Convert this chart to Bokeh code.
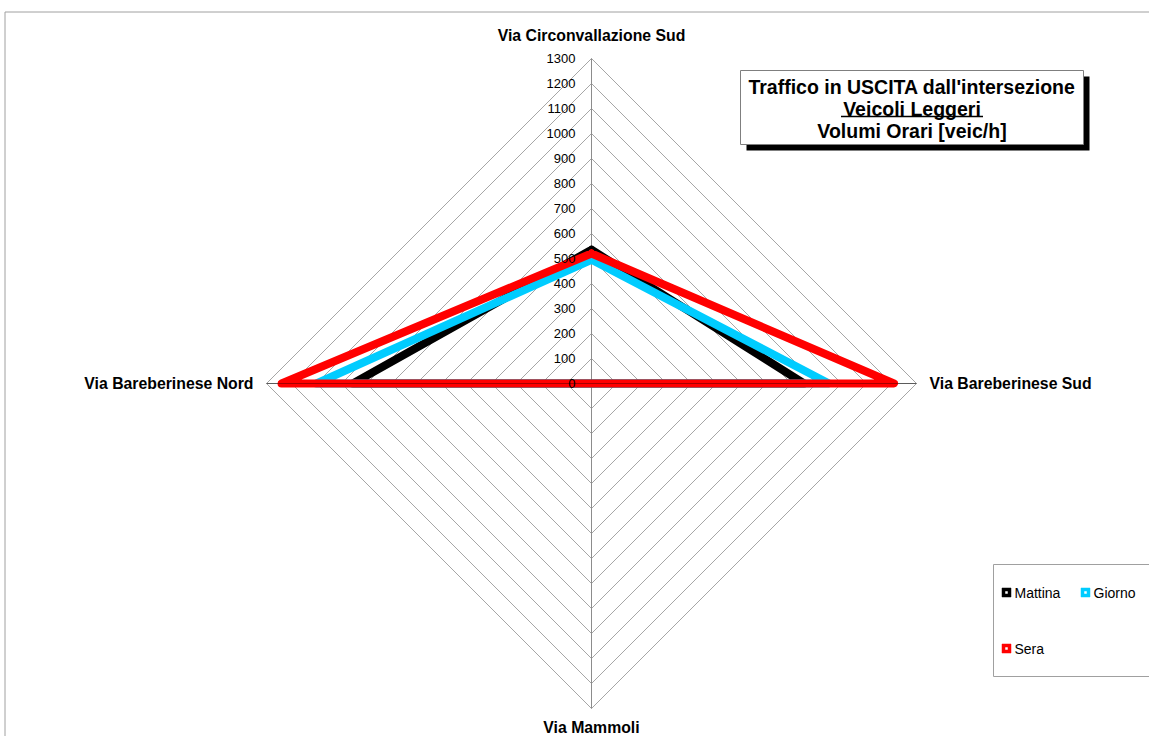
import numpy as np
from bokeh.plotting import figure
from bokeh.models import Range1d
from bokeh.core.properties import value
from bokeh.embed import file_html
from bokeh.resources import INLINE

# ---------------- data ----------------
categories = ["Via Circonvallazione Sud", "Via Bareberinese Sud", "Via Mammoli", "Via Bareberinese Nord"]
series_names = ["Mattina", "Giorno", "Sera"]
mattina = [535, 850, 0, 955]
giorno = [495, 950, 0, 1100]
sera = [520, 1210, 0, 1240]
tick_values = list(range(0, 1301, 100))
tick_labels = [str(v) for v in tick_values]
title_lines = ["Traffico in USCITA dall'intersezione", "Veicoli Leggeri", "Volumi Orari [veic/h]"]

# ---------------- style / layout ----------------
colors = ["#000000", "#00CCFF", "#FF0000"]
FONT = value("Liberation Sans")
R_MAX = 1300
PX = 4.0                 # data units per screen pixel
W, H = 1149, 736         # figure size
CX, CY = 591, 383        # radar centre in figure pixels

x_range = Range1d(-CX * PX, (W - CX) * PX)
y_range = Range1d(-(H - CY) * PX, CY * PX)


def fx(px):  # figure pixel -> data x
    return x_range.start + px * PX


def fy(py):  # figure pixel -> data y
    return y_range.end - py * PX


angles = np.pi / 2 - np.arange(len(categories)) * 2 * np.pi / len(categories)


def radar_xy(vals, close=True):
    v = np.asarray(vals, dtype=float)
    xs = v * np.cos(angles)
    ys = v * np.sin(angles)
    if close:
        xs = np.append(xs, xs[0])
        ys = np.append(ys, ys[0])
    return list(xs), list(ys)


p = figure(width=W, height=H, x_range=x_range, y_range=y_range,
           output_backend="svg", toolbar_location=None, min_border=0,
           x_axis_location=None, y_axis_location=None)
p.grid.visible = False
p.outline_line_color = None
p.background_fill_color = "white"
p.border_fill_color = "white"

# chart-area border (top and left visible)
p.segment(x0=[fx(4.5), fx(4.5)], y0=[fy(11.5), fy(11.5)], x1=[fx(1200), fx(4.5)], y1=[fy(11.5), fy(800)],
          line_color="#a0a0a0", line_width=1)

# grid rings
ring_xs, ring_ys = [], []
for r in tick_values[1:]:
    xs, ys = radar_xy([r] * len(categories))
    ring_xs.append(xs)
    ring_ys.append(ys)
p.multi_line(xs=ring_xs, ys=ring_ys, line_color="#a6a6a6", line_width=1)

# spokes
sx, sy = radar_xy([R_MAX] * len(categories), close=False)
p.segment(x0=[0] * len(categories), y0=[0] * len(categories), x1=sx, y1=sy,
          line_color="#8c8c8c", line_width=1)

# series
for name, vals, col in zip(series_names, [mattina, giorno, sera], colors):
    xs, ys = radar_xy(vals)
    p.line(xs, ys, line_color=col, line_width=8, line_join="round", line_cap="round")

# horizontal spoke drawn over the series
p.segment(x0=[sx[3]], y0=[sy[3]], x1=[sx[1]], y1=[sy[1]],
          line_color="#000000", line_alpha=0.35, line_width=1)

# value axis labels
p.text(x=[0] * len(tick_values), y=tick_values, text=tick_labels, x_offset=-16,
       text_align="right", text_baseline="middle", text_font=FONT,
       text_font_size="13px", text_color="#000000")

# category labels
lx, ly = radar_xy([R_MAX] * len(categories), close=False)
offs = [(0, -23, "center"), (13, 0, "left"), (0, 19, "center"), (-13, 0, "right")]
for i, cat in enumerate(categories):
    dx, dy, al = offs[i]
    p.text(x=[lx[i]], y=[ly[i]], text=[cat], x_offset=dx, y_offset=dy,
           text_align=al, text_baseline="middle", text_font=FONT,
           text_font_style="bold", text_font_size="15.8px", text_color="#000000")

# title box with shadow
p.quad(left=[fx(746)], right=[fx(1089)], top=[fy(76)], bottom=[fy(150)],
       fill_color="#000000", line_color=None)
p.quad(left=[fx(740)], right=[fx(1083)], top=[fy(70)], bottom=[fy(144)],
       fill_color="#ffffff", line_color="#7f7f7f", line_width=1)
tcx = fx(911.5)
for line, mid in zip(title_lines, [86, 108, 130]):
    p.text(x=[tcx], y=[fy(mid)], text=[line], text_align="center",
           text_baseline="middle", text_font=FONT, text_font_style="bold",
           text_font_size="19.5px", text_color="#000000")
p.segment(x0=[tcx - 71 * PX], y0=[fy(116)], x1=[tcx + 71 * PX], y1=[fy(116)],
          line_color="#000000", line_width=1.5)

# legend
p.quad(left=[fx(993)], right=[fx(1200)], top=[fy(564)], bottom=[fy(676)],
       fill_color="#ffffff", line_color="#a0a0a0", line_width=1)
leg_pos = [(1006, 592), (1085, 592), (1006, 648)]
for name, col, (mx, my) in zip(series_names, colors, leg_pos):
    p.scatter([fx(mx)], [fy(my)], marker="square", size=9, fill_color=col, line_color=col, line_width=0.5)
    p.scatter([fx(mx)], [fy(my)], marker="square", size=2.5, fill_color="#ffffff", line_color=None)
    p.text(x=[fx(mx)], y=[fy(my)], text=[name], x_offset=8, text_align="left",
           text_baseline="middle", text_font=FONT, text_font_size="14px", text_color="#000000")

open("out.html", "w").write(file_html(p, INLINE))
